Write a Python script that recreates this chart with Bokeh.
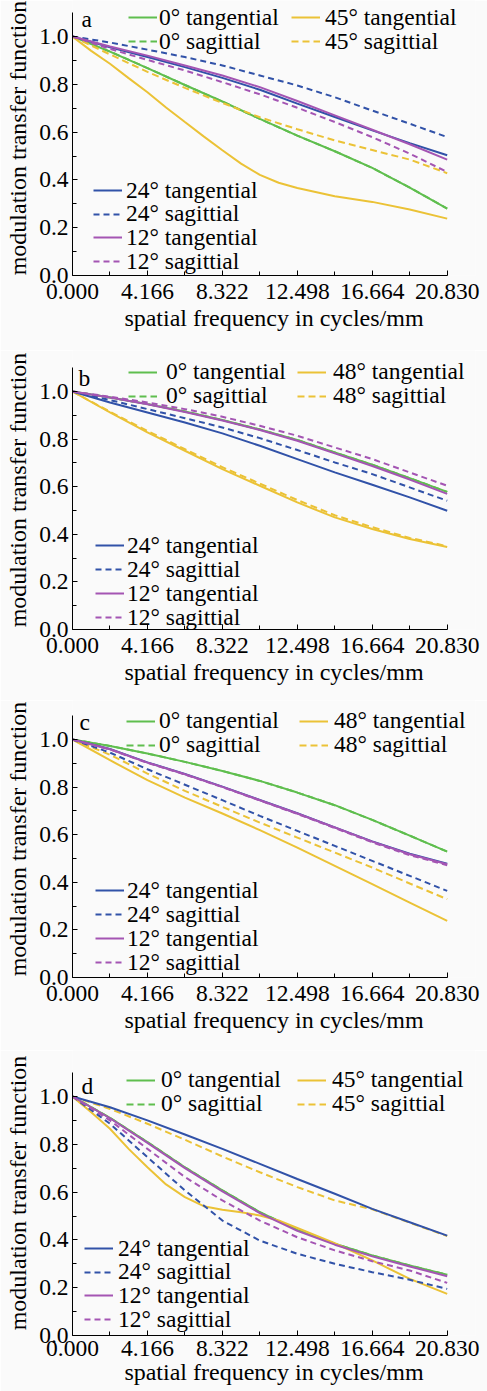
from bokeh.plotting import figure
from bokeh.models import Range1d, FixedTicker, Legend, LegendItem, Label
from bokeh.layouts import column
from bokeh.embed import file_html
from bokeh.resources import INLINE

FONT = "Liberation Serif"
BG = "#fafafa"
C_GREEN = "#5fbe4e"
C_YELLOW = "#ebc236"
C_BLUE = "#3152a8"
C_PURPLE = "#a455b3"

# ---------------- data ----------------
freq = [0, 2.083, 4.166, 6.249, 8.332, 10.415, 12.498, 14.581, 16.664, 18.747, 20.83]
freq_fine = [0, 1.04, 2.083, 3.12, 4.166, 5.2, 6.249, 7.29, 8.332, 9.37, 10.415,
             11.46, 12.498, 14.581, 16.664, 18.747, 20.83]

x_tick_values = [0, 4.166, 8.332, 12.498, 16.664, 20.83]
x_tick_labels = ["0.000", "4.166", "8.322", "12.498", "16.664", "20.830"]
x_minor_ticks = [2.083, 6.249, 10.415, 14.581, 18.747]
y_tick_values = [0, 0.2, 0.4, 0.6, 0.8, 1.0]
y_tick_labels = ["0.0", "0.2", "0.4", "0.6", "0.8", "1.0"]
y_minor_ticks = [0.1, 0.3, 0.5, 0.7, 0.9]

# panel a
a_t0 = [1.0, 0.937, 0.868, 0.797, 0.728, 0.655, 0.585, 0.520, 0.450, 0.368, 0.280]
a_s0 = [1.0, 0.937, 0.868, 0.797, 0.728, 0.655, 0.585, 0.520, 0.450, 0.368, 0.280]
a_t45 = [1.0, 0.940, 0.886, 0.826, 0.767, 0.703, 0.642, 0.582, 0.524, 0.468, 0.421,
         0.388, 0.366, 0.332, 0.308, 0.276, 0.238]
a_s45 = [1.0, 0.925, 0.852, 0.785, 0.722, 0.662, 0.612, 0.565, 0.525, 0.485, 0.428]
a_t24 = [1.0, 0.955, 0.914, 0.872, 0.827, 0.777, 0.719, 0.663, 0.607, 0.554, 0.503]
a_s24 = [1.0, 0.975, 0.945, 0.914, 0.879, 0.837, 0.795, 0.746, 0.690, 0.635, 0.579]
a_t12 = [1.0, 0.958, 0.920, 0.879, 0.837, 0.788, 0.730, 0.670, 0.610, 0.549, 0.485]
a_s12 = [1.0, 0.948, 0.902, 0.858, 0.809, 0.758, 0.702, 0.642, 0.579, 0.510, 0.433]

# panel b
b_t0 = [1.0, 0.975, 0.947, 0.916, 0.880, 0.840, 0.796, 0.744, 0.692, 0.636, 0.578]
b_s0 = [1.0, 0.975, 0.947, 0.916, 0.880, 0.840, 0.796, 0.744, 0.692, 0.636, 0.578]
b_t48 = [1.0, 0.912, 0.828, 0.751, 0.674, 0.604, 0.534, 0.471, 0.422, 0.380, 0.347]
b_s48 = [1.0, 0.915, 0.834, 0.758, 0.682, 0.613, 0.544, 0.480, 0.430, 0.385, 0.350]
b_t24 = [1.0, 0.954, 0.912, 0.870, 0.824, 0.772, 0.716, 0.660, 0.608, 0.555, 0.499]
b_s24 = [1.0, 0.964, 0.926, 0.888, 0.849, 0.804, 0.754, 0.702, 0.653, 0.597, 0.541]
b_t12 = [1.0, 0.975, 0.946, 0.914, 0.878, 0.838, 0.793, 0.740, 0.687, 0.630, 0.570]
b_s12 = [1.0, 0.978, 0.954, 0.926, 0.894, 0.856, 0.814, 0.765, 0.716, 0.660, 0.604]

# panel c
c_t0 = [1.0, 0.973, 0.941, 0.906, 0.868, 0.826, 0.777, 0.724, 0.662, 0.596, 0.529]
c_s0 = [1.0, 0.973, 0.941, 0.906, 0.868, 0.826, 0.777, 0.724, 0.662, 0.596, 0.529]
c_t48 = [1.0, 0.913, 0.829, 0.756, 0.689, 0.619, 0.546, 0.469, 0.392, 0.315, 0.238]
c_s48 = [1.0, 0.936, 0.857, 0.784, 0.717, 0.651, 0.588, 0.525, 0.462, 0.395, 0.329]
c_t24 = [1.0, 0.960, 0.904, 0.855, 0.802, 0.746, 0.690, 0.631, 0.572, 0.520, 0.478]
c_s24 = [1.0, 0.945, 0.875, 0.810, 0.745, 0.679, 0.616, 0.553, 0.490, 0.427, 0.364]
c_t12 = [1.0, 0.959, 0.903, 0.854, 0.801, 0.745, 0.689, 0.630, 0.571, 0.518, 0.476]
c_s12 = [1.0, 0.958, 0.902, 0.853, 0.800, 0.744, 0.687, 0.628, 0.568, 0.514, 0.472]

# panel d
d_t0 = [1.0, 0.911, 0.809, 0.704, 0.607, 0.516, 0.442, 0.384, 0.335, 0.293, 0.254]
d_s0 = [1.0, 0.911, 0.809, 0.704, 0.607, 0.516, 0.442, 0.384, 0.335, 0.293, 0.254]
d_t45 = [1.0, 0.934, 0.865, 0.781, 0.704, 0.632, 0.579, 0.541, 0.526, 0.516, 0.502,
         0.481, 0.450, 0.386, 0.314, 0.237, 0.174]
d_s45 = [1.0, 0.948, 0.886, 0.819, 0.749, 0.683, 0.621, 0.565, 0.528, 0.472, 0.416]
d_t24 = [1.0, 0.955, 0.900, 0.841, 0.781, 0.718, 0.655, 0.593, 0.530, 0.474, 0.418]
d_s24 = [1.0, 0.886, 0.746, 0.607, 0.481, 0.397, 0.342, 0.300, 0.265, 0.233, 0.195]
d_t12 = [1.0, 0.909, 0.806, 0.700, 0.603, 0.512, 0.438, 0.380, 0.331, 0.289, 0.248]
d_s12 = [1.0, 0.900, 0.781, 0.663, 0.565, 0.481, 0.411, 0.356, 0.311, 0.272, 0.220]

# ---------------- layout (page pixels) ----------------
FIG_W = 487
FRAME_LEFT = 72
FRAME_W = 403
X_PPU = 374.7 / 20.83
ITEM_H = 34
FS = "23.5px"
FS_AXIS = "24px"


def make_panel(letter, hi_angle, curves, fig_top, fig_h, frame_bottom, y_ppu,
               letter_pos, legends, tick_standoff=8, label_standoff=3):
    frame_h = frame_bottom - fig_top
    p = figure(width=FIG_W, height=fig_h,
               x_range=Range1d(0, FRAME_W / X_PPU), y_range=Range1d(0, frame_h / y_ppu),
               output_backend="svg", toolbar_location=None,
               min_border_left=FRAME_LEFT, min_border_right=FIG_W - FRAME_LEFT - FRAME_W,
               min_border_top=0, min_border_bottom=fig_h - frame_h,
               background_fill_color=BG, border_fill_color=BG)
    p.outline_line_color = None
    p.grid.visible = False

    p.xaxis.ticker = FixedTicker(ticks=x_tick_values, minor_ticks=x_minor_ticks)
    p.xaxis.major_label_overrides = {v: s for v, s in zip(x_tick_values, x_tick_labels)}
    p.yaxis.ticker = FixedTicker(ticks=y_tick_values, minor_ticks=y_minor_ticks)
    p.yaxis.major_label_overrides = {v: s for v, s in zip(y_tick_values, y_tick_labels)}
    p.xaxis.bounds = (0, 20.83)
    p.yaxis.bounds = (0, 1.1)
    p.xaxis.axis_label = "spatial frequency in cycles/mm"
    p.yaxis.axis_label = "modulation transfer function"
    for ax in (p.xaxis[0], p.yaxis[0]):
        ax.axis_line_color = "black"
        ax.axis_line_width = 1
        ax.major_tick_in = 5
        ax.major_tick_out = 0
        ax.minor_tick_in = 4
        ax.minor_tick_out = 0
        ax.major_tick_line_color = "black"
        ax.minor_tick_line_color = "black"
        ax.major_label_text_font = FONT
        ax.major_label_text_font_size = FS
        ax.major_label_text_color = "black"
        ax.axis_label_text_font = FONT
        ax.axis_label_text_font_size = FS_AXIS
        ax.axis_label_text_font_style = "normal"
        ax.axis_label_text_color = "black"
    p.xaxis.major_label_standoff = tick_standoff
    p.xaxis.axis_label_standoff = label_standoff
    p.yaxis.major_label_standoff = 4
    p.yaxis.axis_label_standoff = 5

    (t0, s0, thi, shi, t24, s24, t12, s12, hi_x) = curves
    r = {}
    r["s0"] = p.line(freq, s0, line_color=C_GREEN, line_width=2, line_dash="7 4")
    r["t0"] = p.line(freq, t0, line_color=C_GREEN, line_width=2)
    r["shi"] = p.line(freq, shi, line_color=C_YELLOW, line_width=2, line_dash="7 4")
    r["thi"] = p.line(hi_x, thi, line_color=C_YELLOW, line_width=2)
    r["s24"] = p.line(freq, s24, line_color=C_BLUE, line_width=2, line_dash="6 4")
    r["t24"] = p.line(freq, t24, line_color=C_BLUE, line_width=2)
    r["s12"] = p.line(freq, s12, line_color=C_PURPLE, line_width=2, line_dash="6 4")
    r["t12"] = p.line(freq, t12, line_color=C_PURPLE, line_width=2)

    names = {
        "t0": "0° tangential", "s0": "0° sagittial",
        "thi": f"{hi_angle}° tangential", "shi": f"{hi_angle}° sagittial",
        "t24": "24° tangential", "s24": "24° sagittial",
        "t12": "12° tangential", "s12": "12° sagittial",
    }
    for keys, (gl, row1, gap, stand) in zip(
            [["t0", "s0"], ["thi", "shi"], ["t24", "s24", "t12", "s12"]], legends):
        for i, k in enumerate(keys):
            center = row1 + i * gap
            vy = frame_bottom - center - ITEM_H / 2
            leg = Legend(items=[LegendItem(label=names[k], renderers=[r[k]])],
                         location=(gl - FRAME_LEFT, vy), orientation="vertical",
                         glyph_width=29, glyph_height=ITEM_H, label_height=ITEM_H,
                         label_standoff=stand, spacing=0,
                         padding=0, margin=0, border_line_color=None,
                         background_fill_alpha=0,
                         label_text_font=FONT, label_text_font_size=FS,
                         label_text_color="black")
            p.add_layout(leg)

    lx, ly = letter_pos
    p.add_layout(Label(x=lx - FRAME_LEFT, y=frame_bottom - ly, x_units="screen",
                       y_units="screen", text=letter, text_font=FONT,
                       text_font_size=FS, text_baseline="alphabetic",
                       text_color="black"))
    return p


pa = make_panel("a", 45, (a_t0, a_s0, a_t45, a_s45, a_t24, a_s24, a_t12, a_s12, freq_fine),
                0, 350, 275, 239, (81, 18),
                [(128, 17, 24, 2), (291, 17, 24, 5), (93, 190, 23.7, 4)])
pb = make_panel("b", 48, (b_t0, b_s0, b_t48, b_s48, b_t24, b_s24, b_t12, b_s12, freq),
                350, 350, 629, 238, (78, 377),
                [(128, 371.5, 24, 9), (297, 371.5, 24, 7), (95, 545, 24, 3)])
pc = make_panel("c", 48, (c_t0, c_s0, c_t48, c_s48, c_t24, c_s24, c_t12, c_s12, freq),
                700, 350, 977, 238, (79, 721),
                [(126, 720.5, 24, 4), (299, 720.5, 24, 6), (95, 890, 24, 3)])
pd = make_panel("d", 45, (d_t0, d_s0, d_t45, d_s45, d_t24, d_s24, d_t12, d_s12, freq_fine),
                1050, 341, 1335, 239, (81, 1085),
                [(126, 1079.5, 24, 6), (297, 1079.5, 24, 6), (84, 1248, 23.7, 5)],
                tick_standoff=5, label_standoff=0)

layout = column(pa, pb, pc, pd, spacing=0)
open("out.html", "w").write(file_html(layout, INLINE))
